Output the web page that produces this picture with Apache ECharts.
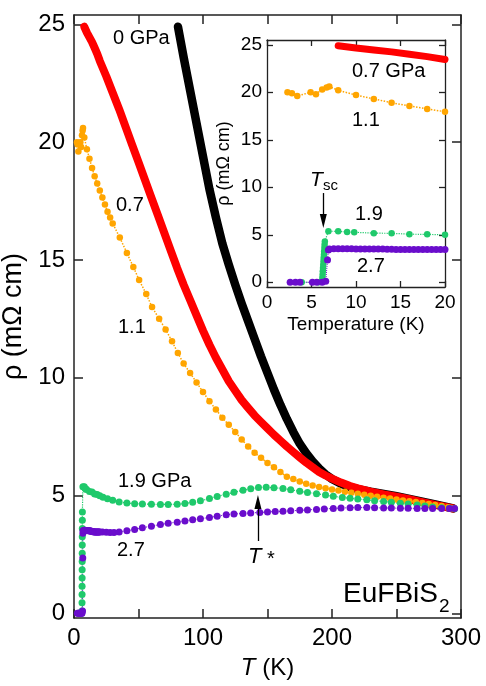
<!DOCTYPE html>
<html>
<head>
<meta charset="utf-8">
<script src="https://cdn.jsdelivr.net/npm/echarts@6/dist/echarts.min.js"></script>
<style>
  html, body { margin: 0; padding: 0; background: #fff; }
  #chart { width: 486px; height: 686px; }
</style>
</head>
<body>
<div id="chart"></div>
<script>
// Resistivity of EuFBiS2 under pressure, pairs of [T (K), rho (mΩ cm)]
const rho0GPa = [
  [80.6, 24.9], [85, 23.6], [90, 22.2], [95, 20.8], [100, 19.4], [105, 18.0], [110, 16.8],
  [115, 15.7], [120, 14.8], [125, 13.95], [130, 13.15], [135, 12.4], [140, 11.65], [145, 10.9],
  [150, 10.2], [155, 9.5], [160, 8.85], [165, 8.25], [170, 7.7], [175, 7.2], [180, 6.8],
  [185, 6.45], [190, 6.15], [195, 5.9], [200, 5.7], [207, 5.5], [214, 5.36], [220, 5.27],
  [230, 5.16], [240, 5.07], [250, 4.97], [260, 4.86], [270, 4.74], [280, 4.62], [294, 4.45]
];

const rho07GPa = [
  [8, 24.9], [10, 24.65], [12, 24.45], [14, 24.25], [16, 24.0], [18, 23.75], [20, 23.45],
  [25, 22.8], [30, 22.1], [35, 21.4], [40, 20.65], [45, 19.9], [50, 19.15], [55, 18.4],
  [60, 17.65], [65, 16.9], [70, 16.15], [75, 15.4], [80, 14.65], [85, 13.95], [90, 13.3],
  [95, 12.65], [100, 12.0], [105, 11.4], [110, 10.85], [115, 10.35], [120, 9.85], [125, 9.45],
  [130, 9.05], [135, 8.72], [140, 8.4], [145, 8.12], [150, 7.85], [155, 7.58], [160, 7.33],
  [165, 7.08], [170, 6.85], [175, 6.62], [180, 6.4], [185, 6.2], [190, 6.0], [195, 5.85],
  [200, 5.72], [207, 5.55], [214, 5.4], [220, 5.3], [230, 5.16], [240, 5.05], [250, 4.95],
  [260, 4.84], [270, 4.72], [280, 4.6], [294, 4.45]
];

const rho11GPa = [
  [2.3, 20.0], [2.8, 19.9], [3.4, 19.6], [4.9, 20.0], [5.5, 19.8], [6.2, 20.3], [6.7, 20.5],
  [7.0, 20.6], [8, 20.2], [10, 19.7], [12, 19.3], [14, 18.9], [16, 18.55], [18, 18.25],
  [20, 17.95], [22, 17.65], [24, 17.35], [26, 17.05], [28, 16.8], [30, 16.55], [35.5, 15.95],
  [41, 15.3], [46, 14.7], [50.5, 14.15], [56, 13.55], [60.5, 13.0], [66, 12.5], [71, 12.05],
  [76, 11.55], [80.5, 11.05], [85, 10.6], [90, 10.2], [95, 9.8], [100, 9.4], [105, 9.0],
  [110, 8.65], [115, 8.3], [120, 8.0], [125, 7.7], [130, 7.38], [135, 7.08], [140, 6.82],
  [145, 6.6], [150, 6.38], [155, 6.2], [160, 6.0], [165, 5.8], [170, 5.7], [175, 5.6],
  [180, 5.5], [185, 5.42], [190, 5.36], [195, 5.31], [200, 5.26], [205, 5.21], [210, 5.16],
  [215, 5.12], [220, 5.07], [225, 5.03], [230, 4.99], [235, 4.95], [240, 4.91], [245, 4.87],
  [250, 4.83], [255, 4.79], [260, 4.76], [265, 4.72], [270, 4.68], [275, 4.64], [280, 4.6],
  [285, 4.55], [290, 4.5], [294, 4.46]
];

const rho19GPa = [
  [3.9, 0], [5.8, 0], [6.2, 0.1], [6.22, 0.45], [6.25, 0.8], [6.27, 1.15], [6.3, 1.5],
  [6.32, 1.85], [6.35, 2.2], [6.37, 2.55], [6.4, 2.9], [6.42, 3.25], [6.45, 3.6], [6.47, 3.95],
  [6.5, 4.3], [6.9, 5.37], [8, 5.37], [9, 5.28], [9.8, 5.26], [12, 5.17], [14, 5.15], [16, 5.06],
  [18, 5.04], [20, 4.99], [22.5, 4.93], [26, 4.86], [30, 4.8], [35, 4.73], [41, 4.68], [47, 4.65],
  [53, 4.64], [60, 4.63], [67, 4.62], [73, 4.62], [80, 4.63], [86, 4.66], [92, 4.71], [98, 4.78],
  [105, 4.87], [111, 4.96], [118, 5.05], [124, 5.14], [131, 5.22], [137, 5.29], [143, 5.34],
  [149, 5.35], [155, 5.33], [162, 5.3], [168, 5.24], [175, 5.18], [181, 5.13], [188, 5.08],
  [195, 5.02], [201, 4.97], [208, 4.92], [214, 4.88], [220, 4.85], [227, 4.82], [233, 4.78],
  [240, 4.75], [246, 4.71], [253, 4.67], [259, 4.64], [266, 4.6], [272, 4.56], [278, 4.51],
  [285, 4.48], [291, 4.46], [295, 4.44]
];

const rho27GPa = [
  [2.6, 0], [3.2, 0], [3.7, 0], [5.1, 0], [5.6, 0], [6.2, 0], [6.6, 0.1], [6.8, 2.35], [6.9, 3.4],
  [7.0, 3.5], [7.5, 3.52], [8.0, 3.53], [8.5, 3.53], [9.0, 3.52], [9.5, 3.52], [10.0, 3.51],
  [10.5, 3.51], [11, 3.5], [11.5, 3.5], [12, 3.5], [12.5, 3.49], [13, 3.49], [13.5, 3.48],
  [14, 3.47], [14.5, 3.46], [15, 3.46], [15.5, 3.46], [16, 3.45], [16.5, 3.45], [17, 3.45],
  [17.5, 3.45], [18, 3.45], [18.5, 3.45], [19, 3.45], [19.5, 3.45], [20, 3.45], [22, 3.45],
  [25, 3.44], [28, 3.43], [31, 3.43], [35, 3.45], [41, 3.5], [47, 3.56], [53, 3.63], [60, 3.7],
  [67, 3.77], [73, 3.82], [80, 3.87], [86, 3.92], [92, 3.97], [98, 4.01], [105, 4.07],
  [111, 4.12], [118, 4.18], [124, 4.21], [131, 4.24], [137, 4.26], [144, 4.28], [150, 4.3],
  [156, 4.32], [162, 4.33], [168, 4.35], [175, 4.37], [181, 4.39], [188, 4.41], [194, 4.43],
  [201, 4.45], [207, 4.47], [214, 4.48], [220, 4.49], [227, 4.49], [233, 4.48], [240, 4.47],
  [246, 4.47], [253, 4.46], [259, 4.46], [266, 4.45], [272, 4.45], [278, 4.45], [285, 4.45],
  [291, 4.45], [295, 4.45]
];

// Axis ticks and labels
const mainTTicks = [0, 50, 100, 150, 200, 250, 300];
const mainTLabels = [0, 100, 200, 300];
const mainRhoTicks = [0, 5, 10, 15, 20, 25];
const insetTTicks = [0, 5, 10, 15, 20];
const insetRhoTicks = [0, 5, 10, 15, 20, 25];

// Markers for T* (main panel) and Tsc (inset): [T, rho from, rho to]
const tStarArrow = [142.6, 3.07, 4.73];
const tScArrow = [6.33, 9.39, 6.45];

const FONT = '"Liberation Sans", Arial, Helvetica, sans-serif';
const AXIS_COLOR = '#222';
const INSET_MAX_T = 20.5;

const COLORS = {
  p0: '#000000',
  p07: '#ff0000',
  p11: '#ffa500',
  p19: '#1fc96b',
  p27: '#6a0dcc'
};

const upTo = (arr, tMax) => arr.filter(p => p[0] <= tMax);

function boxAxes(gridIndex, opts) {
  const tickLen = opts.tickLen;
  const lineStyle = { color: AXIS_COLOR, width: opts.lineWidth };
  const labelStyle = { fontFamily: FONT, fontSize: opts.labelSize, color: '#000' };
  const x = [
    {
      gridIndex, type: 'value', min: opts.xMin, max: opts.xMax, position: 'bottom',
      axisLine: { show: true, onZero: false, lineStyle },
      axisTick: { show: true, inside: true, length: tickLen, lineStyle, customValues: opts.xTicks },
      axisLabel: Object.assign({ show: true, margin: opts.xLabelMargin, customValues: opts.xLabels }, labelStyle),
      splitLine: { show: false },
      name: opts.xName, nameLocation: 'middle', nameGap: opts.xNameGap,
      nameTextStyle: opts.xNameStyle
    },
    {
      gridIndex, type: 'value', min: opts.xMin, max: opts.xMax, position: 'top',
      axisLine: { show: true, onZero: false, lineStyle },
      axisTick: { show: true, inside: true, length: tickLen, lineStyle, customValues: opts.xTicks },
      axisLabel: { show: false },
      splitLine: { show: false }
    }
  ];
  const y = [
    {
      gridIndex, type: 'value', min: opts.yMin, max: opts.yMax, position: 'left',
      axisLine: { show: true, onZero: false, lineStyle },
      axisTick: { show: true, inside: true, length: tickLen, lineStyle, customValues: opts.yTicks },
      axisLabel: Object.assign({ show: true, margin: opts.yLabelMargin, customValues: opts.yTicks }, labelStyle),
      splitLine: { show: false },
      name: 'ρ (mΩ cm)', nameLocation: 'middle', nameGap: opts.yNameGap,
      nameTextStyle: { fontFamily: FONT, fontSize: opts.yNameSize, color: '#000' }
    },
    {
      gridIndex, type: 'value', min: opts.yMin, max: opts.yMax, position: 'right',
      axisLine: { show: true, onZero: false, lineStyle },
      axisTick: { show: true, inside: true, length: tickLen, lineStyle, customValues: opts.yTicks },
      axisLabel: { show: false },
      splitLine: { show: false }
    }
  ];
  return { x, y };
}

const mainAxes = boxAxes(0, {
  xMin: 0, xMax: 300, yMin: -0.2, yMax: 25.4,
  xTicks: mainTTicks, xLabels: mainTLabels, yTicks: mainRhoTicks,
  tickLen: 9, lineWidth: 1.5, labelSize: 24,
  xLabelMargin: 8, yLabelMargin: 9,
  xName: '{i|T} (K)', xNameGap: 38,
  xNameStyle: {
    fontFamily: FONT, fontSize: 24, color: '#000',
    rich: { i: { fontFamily: FONT, fontSize: 24, fontStyle: 'italic', color: '#000' } }
  },
  yNameGap: 32, yNameSize: 27
});

const insetAxes = boxAxes(1, {
  xMin: 0, xMax: 20, yMin: -0.5, yMax: 25.5,
  xTicks: insetTTicks, xLabels: insetTTicks, yTicks: insetRhoTicks,
  tickLen: 6, lineWidth: 1.3, labelSize: 19,
  xLabelMargin: 6, yLabelMargin: 5,
  xName: 'Temperature (K)', xNameGap: 28,
  xNameStyle: { fontFamily: FONT, fontSize: 19, color: '#000' },
  yNameGap: 34, yNameSize: 18
});

function thickLine(name, data, color, width, xi, yi) {
  return {
    type: 'line', name, data, xAxisIndex: xi, yAxisIndex: yi,
    symbol: 'none', smooth: false,
    lineStyle: { color, width, cap: 'round', join: 'round' },
    silent: true
  };
}

function dotted(name, data, color, size, lineWidth, xi, yi) {
  return {
    type: 'line', name, data, xAxisIndex: xi, yAxisIndex: yi,
    symbol: 'circle', symbolSize: size, showSymbol: true, showAllSymbol: true,
    itemStyle: { color, borderWidth: 0 },
    lineStyle: { color, width: lineWidth, type: 'dotted' },
    silent: true
  };
}

const arrowLine = (arrow) => ({
  silent: true,
  symbol: ['none', 'triangle'],
  symbolSize: [7, 14],
  label: { show: false },
  lineStyle: { color: '#000', width: 1.3, type: 'solid' },
  data: [[{ coord: [arrow[0], arrow[1]] }, { coord: [arrow[0], arrow[2]] }]]
});

const series = [
  // main panel (axes 0 / 0)
  thickLine('0 GPa', rho0GPa, COLORS.p0, 8.5, 0, 0),
  thickLine('0.7 GPa', rho07GPa, COLORS.p07, 8, 0, 0),
  dotted('1.1 GPa', rho11GPa, COLORS.p11, 6.5, 1.5, 0, 0),
  Object.assign(dotted('1.9 GPa', rho19GPa, COLORS.p19, 7, 1.2, 0, 0), { markLine: arrowLine(tStarArrow) }),
  dotted('2.7 GPa', rho27GPa, COLORS.p27, 7, 1, 0, 0),
  // low-temperature inset (axes 2 / 2)
  thickLine('0.7 GPa inset', upTo(rho07GPa, INSET_MAX_T), COLORS.p07, 7, 2, 2),
  dotted('1.1 GPa inset', upTo(rho11GPa, INSET_MAX_T), COLORS.p11, 6.5, 1.5, 2, 2),
  Object.assign(dotted('1.9 GPa inset', upTo(rho19GPa, INSET_MAX_T), COLORS.p19, 6.5, 1.2, 2, 2), { markLine: arrowLine(tScArrow) }),
  dotted('2.7 GPa inset', upTo(rho27GPa, INSET_MAX_T), COLORS.p27, 7, 1, 2, 2)
];

function label(text, x, y, size, opts) {
  opts = opts || {};
  return {
    type: 'text', x, y, silent: true, z: 100,
    style: {
      text, fill: '#000',
      font: `${opts.italic ? 'italic ' : ''}${size}px ${FONT}`,
      align: opts.align || 'left', verticalAlign: 'middle',
      textAlign: opts.align || 'left', textVerticalAlign: 'middle'
    }
  };
}

const graphics = [
  // main panel curve labels
  label('0 GPa', 113, 38, 20),
  label('0.7', 116, 205, 20),
  label('1.1', 118, 327, 20),
  label('1.9 GPa', 118, 481, 20),
  label('2.7', 117, 550, 20),
  label('T', 248, 557, 22, { italic: true }),
  label('*', 267, 559, 20),
  label('EuFBiS', 438, 594, 28, { align: 'right' }),
  label('2', 439, 607, 19),
  // inset labels
  label('0.7 GPa', 352, 71, 20),
  label('1.1', 352, 120, 20),
  label('T', 310, 180, 21, { italic: true }),
  label('sc', 323, 186, 15),
  label('1.9', 355, 214, 20),
  label('2.7', 357, 266, 20)
];

const chart = echarts.init(document.getElementById('chart'), null, { renderer: 'canvas' });
chart.setOption({
  animation: false,
  backgroundColor: '#fff',
  grid: [
    { left: 74, top: 15, width: 387, height: 603, containLabel: false, outerBoundsMode: 'none' },
    { left: 267, top: 40, width: 178, height: 247, containLabel: false, outerBoundsMode: 'none' }
  ],
  xAxis: mainAxes.x.concat(insetAxes.x),
  yAxis: mainAxes.y.concat(insetAxes.y),
  series,
  graphic: graphics
});
</script>
</body>
</html>
